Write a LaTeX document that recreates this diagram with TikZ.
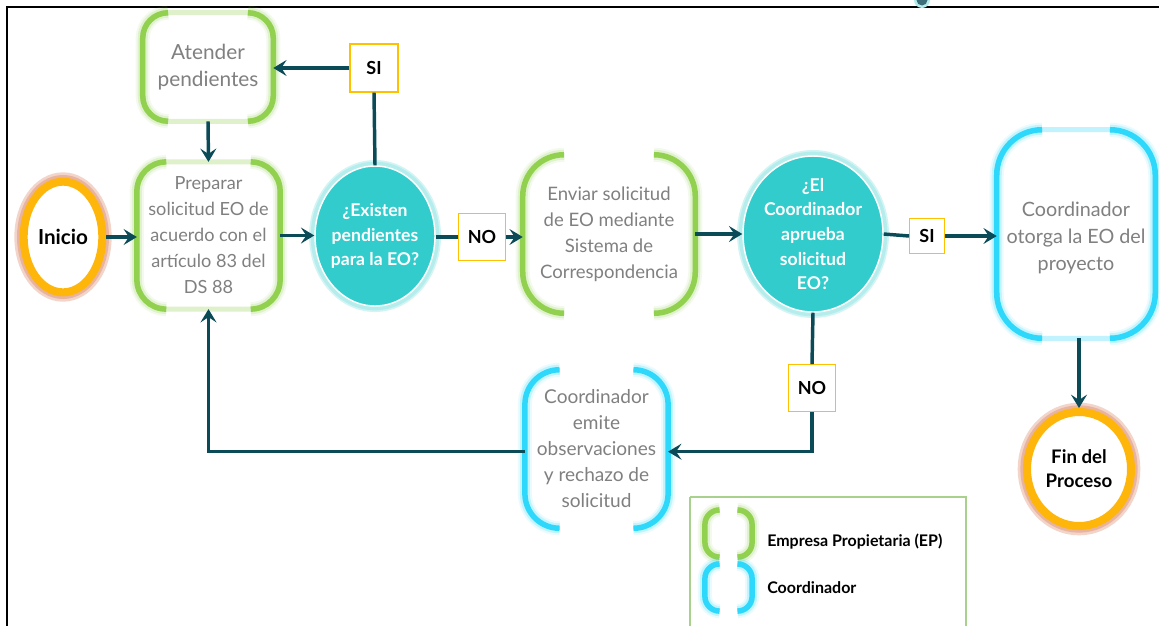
\documentclass[tikz,border=0pt]{standalone}
\usepackage{fontspec}
\setmainfont{Lato}
\usetikzlibrary{arrows.meta,shapes.geometric}
\definecolor{lineC}{HTML}{0B4B58}
\definecolor{grnC}{HTML}{92D050}
\definecolor{cyaC}{HTML}{2ED8FA}
\definecolor{tealF}{HTML}{33CCCC}
\definecolor{tealGlow}{HTML}{B5EDED}
\definecolor{ringO}{HTML}{FFB60A}
\definecolor{ringGlow}{HTML}{E2A088}
\definecolor{labY}{HTML}{FFC000}
\definecolor{grayT}{HTML}{808080}
\definecolor{legB}{HTML}{A9D18E}
\newcommand{\bracketpair}[3]{%
  \foreach \w/\o in {14/0.10,10/0.20,5.5/1}{%
    \draw[#3, opacity=\o, line width=\w*0.75pt, rounded corners=#2]
      ([xshift=#2]#1.north west) -- (#1.north west) -- (#1.south west) -- ([xshift=#2]#1.south west);
    \draw[#3, opacity=\o, line width=\w*0.75pt, rounded corners=#2]
      ([xshift=-#2]#1.north east) -- (#1.north east) -- (#1.south east) -- ([xshift=-#2]#1.south east);
  }}
\newcommand{\fullframe}[3]{%
  \draw[#3!30, line width=5*0.75pt, rounded corners=#2] (#1.north west) rectangle (#1.south east);}
\tikzset{
  proc/.style={rectangle, inner sep=0pt, align=center, text=grayT,
    font=\fontsize{14.5}{19.5}\selectfont},
  dec/.style={ellipse, fill=tealF, draw=white, line width=1.1pt, inner sep=0pt,
    preaction={draw=tealGlow!60, line width=9pt},
    preaction={draw=tealGlow, line width=6.5pt}},
  dectxt/.style={text=white, align=center, inner sep=0pt,
    font=\bfseries\fontsize{13.2}{18.5}\selectfont},
  term/.style={ellipse, fill=white, draw=ringO, line width=6pt, inner sep=0pt,
    preaction={draw=ringGlow!45, line width=14pt},
    preaction={draw=ringGlow!80, line width=10pt}},
  termtxt/.style={text=black, align=center, inner sep=0pt,
    font=\bfseries\fontsize{14}{18}\selectfont},
  lab/.style={rectangle, draw=labY, line width=0.9pt, fill=white, inner sep=0pt,
    font=\bfseries\fontsize{13.5}{16}\selectfont},
  conn/.style={draw=lineC, line width=2.6pt, -{Stealth[length=10pt,width=12pt,inset=4pt]}},
  plain/.style={draw=lineC, line width=2.6pt},
  legtxt/.style={anchor=west, inner sep=0pt, font=\bfseries\fontsize{12}{14}\selectfont}
}
\begin{document}
\begin{tikzpicture}[x=0.75pt,y=-0.75pt]
\useasboundingbox (0,0) rectangle (1159,625);
\clip (0,0) rectangle (1159,625);
\fill[white] (0,0) rectangle (1159,625);
% frame
\draw[black, line width=2.2pt] (7,630) -- (7,7) -- (1165,7);
\fill[tealGlow] (922,0) circle (8);
\fill[lineC!80] (922,0) circle (5.5);

% process nodes
\node[proc, minimum width=97.5pt, minimum height=81pt, font=\fontsize{15.6}{20.5}\selectfont] (aten) at (208,67) {Atender\\pendientes};
\node[proc, minimum width=107pt, minimum height=110pt, font=\fontsize{13.6}{19.5}\selectfont] (prep) at (208.5,235.5) {Preparar\\solicitud EO de\\acuerdo con el\\artículo 83 del\\DS 88};
\node[proc, minimum width=129pt, minimum height=118.5pt, font=\fontsize{13.9}{19.5}\selectfont] (env) at (609,234) {Enviar solicitud\\de EO mediante\\Sistema de\\Correspondencia};
\node[proc, minimum width=118.5pt, minimum height=156pt,
  label={[proc, font=\fontsize{14.8}{20}\selectfont, yshift=-3pt]center:{Coordinador\\otorga la EO del\\proyecto}}] (otor) at (1076,234) {};
\node[proc, minimum width=107pt, minimum height=118.5pt, font=\fontsize{14.3}{19.5}\selectfont] (emite) at (596.5,449) {Coordinador\\emite\\observaciones\\y rechazo de\\solicitud};

\fullframe{aten}{19pt}{grnC}
\fullframe{prep}{22pt}{grnC}
\fullframe{otor}{34pt}{cyaC}
\bracketpair{aten}{19pt}{grnC}
\bracketpair{prep}{22pt}{grnC}
\bracketpair{env}{31pt}{grnC}
\bracketpair{otor}{34pt}{cyaC}
\bracketpair{emite}{26pt}{cyaC}

% terminals
\node[term, minimum width=59pt, minimum height=83pt, label={[termtxt, font=\bfseries\fontsize{15.5}{18}\selectfont]center:Inicio}] (inicio) at (63,237) {};
\node[term, minimum width=78pt, minimum height=85.5pt, label={[termtxt]center:{Fin del\\Proceso}}] (fin) at (1079,469) {};

% decisions
\node[dec, minimum width=90pt, minimum height=105pt, label={[dectxt]center:{¿Existen\\pendientes\\para la EO?}}] (ex1) at (375,236) {};
\node[dec, minimum width=105pt, minimum height=117pt, label={[dectxt]center:{¿El\\Coordinador\\aprueba\\solicitud\\EO?}}] (dec2) at (813,234) {};

% labels
\node[lab, minimum size=36pt] (si1) at (374,68) {SI};
\node[lab, minimum size=35pt] (no1) at (482,237) {NO};
\node[lab, minimum size=26pt] (si2) at (927,236) {SI};
\node[lab, minimum size=35pt] (no2) at (812,388) {NO};

% connectors
\draw[conn] (inicio.east) -- (prep.west |- inicio.east);
\draw[conn] (aten.south) -- (prep.north);
\draw[conn] (prep.east) -- (ex1.west |- prep.east);
\draw[plain] (ex1.north) -- (si1.south);
\draw[conn] (si1.west) -- (aten.east |- si1.west);
\draw[plain] (ex1.east |- no1.west) -- (no1.west);
\draw[conn] (no1.east) -- (env.west |- no1.east);
\draw[conn] (env.east |- dec2.west) -- (dec2.west);
\draw[plain] (dec2.east) -- (si2.west);
\draw[conn] (si2.east) -- (otor.west |- si2.east);
\draw[plain] (dec2.south) -- (no2.north);
\draw[conn] (no2.south) |- ([yshift=-2pt]emite.east);
\draw[conn] ([yshift=-2pt]emite.west) -| (prep.south);
\draw[conn] (otor.south -| fin.north) -- (fin.north);

% legend
\draw[legB, line width=0.8pt] (690,497) -- (690,640) (690,497) -- (966,497) -- (966,640);
\node[minimum width=35pt, minimum height=35pt, inner sep=0pt] (legG) at (728.5,533.5) {};
\node[minimum width=35pt, minimum height=35pt, inner sep=0pt] (legC) at (728.5,587.5) {};
\bracketpair{legG}{11pt}{grnC}
\bracketpair{legC}{11pt}{cyaC}
\node[legtxt] (legGt) at (767,542) {Empresa Propietaria (EP)};
\node[legtxt] (legCt) at (767,588) {Coordinador};
\end{tikzpicture}
\end{document}
